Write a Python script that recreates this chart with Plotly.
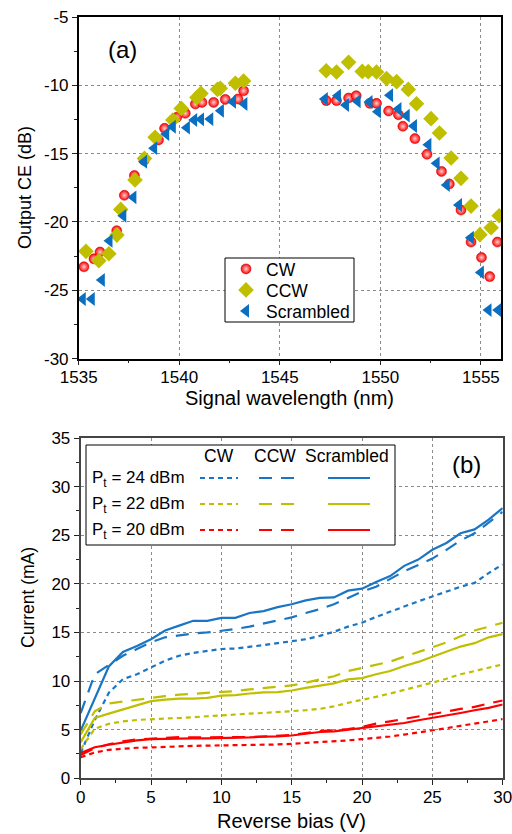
import plotly.graph_objects as go

# ---------------- Panel (a) data ----------------
cw_wl = [1535.26, 1535.76, 1536.06, 1536.89, 1537.27, 1537.77, 1538.25, 1538.97, 1539.27, 1539.88,
         1540.3, 1540.8, 1541.13, 1541.71, 1542.29, 1542.92, 1543.2,
         1547.31, 1547.82, 1548.42, 1548.8, 1549.48, 1549.81, 1550.41, 1550.9, 1551.12, 1551.72,
         1552.32, 1553.04, 1553.43, 1554.01, 1554.51, 1555.03, 1555.44, 1555.82]
cw_ce = [-23.28, -22.7, -22.2, -20.64, -18.05, -16.6, -15.5, -14.0, -13.15, -12.34,
         -12.05, -11.37, -11.25, -11.25, -11.03, -11.0, -10.4,
         -11.12, -11.12, -10.93, -10.76, -11.32, -11.32, -11.88, -12.15, -13.0, -13.9,
         -15.05, -16.3, -17.22, -19.13, -21.47, -22.6, -24.0, -21.47]

ccw_wl = [1535.36, 1536.0, 1536.5, 1536.9, 1537.09, 1537.8, 1538.27, 1538.8, 1539.68, 1540.1,
          1540.88, 1541.08, 1541.9, 1542.04, 1542.79, 1543.2,
          1547.31, 1547.82, 1548.42, 1549.1, 1549.4, 1549.81, 1550.31, 1550.81, 1551.39, 1551.8,
          1552.52, 1552.94, 1553.52, 1554.01, 1554.51, 1554.95, 1555.51, 1555.91]
ccw_ce = [-22.15, -22.84, -22.33, -20.96, -19.08, -16.93, -15.35, -13.8, -12.54, -11.69,
          -10.9, -10.59, -10.3, -10.22, -9.85, -9.68,
          -8.93, -9.03, -8.32, -8.98, -9.0, -9.03, -9.51, -9.73, -10.3, -11.35,
          -12.44, -13.49, -15.32, -16.81, -18.84, -20.93, -20.42, -19.55]

scr_wl = [1535.2, 1535.65, 1536.15, 1536.53, 1537.22, 1537.72, 1538.25, 1538.75, 1539.35, 1539.68,
          1540.38, 1540.74, 1541.08, 1541.54, 1542.07, 1542.67, 1543.24,
          1547.24, 1547.89, 1548.29, 1548.87, 1549.46, 1549.88, 1550.48, 1550.9, 1551.31, 1551.67,
          1552.39, 1552.8, 1553.3, 1553.91, 1554.5, 1555.0, 1555.38, 1555.86]
scr_ce = [-25.64, -25.64, -24.25, -21.38, -19.55, -18.2, -15.59, -14.6, -13.57, -13.03,
          -13.1, -12.54, -12.49, -12.47, -11.86, -11.2, -11.37,
          -11.0, -10.76, -11.44, -11.17, -11.22, -11.93, -10.73, -11.73, -12.22, -12.98,
          -14.35, -15.71, -17.3, -18.76, -21.15, -23.69, -26.45, -26.45]

wl_ticks = [1535, 1540, 1545, 1550, 1555]
ce_ticks = [-30, -25, -20, -15, -10, -5]
ce_ticktext = ["-30", "-25", "-20", "-15", "-10", "-5"]

# ---------------- Panel (b) data ----------------
bias = list(range(0, 31))

cw24 = [2.6, 6.0, 8.8, 10.2, 10.7, 11.4, 12.1, 12.6, 12.9, 13.1, 13.3, 13.35, 13.5, 13.7, 13.9, 14.1,
        14.3, 14.65, 15.07, 15.6, 16.0, 16.6, 17.15, 17.7, 18.2, 18.7, 19.2, 19.7, 20.1, 21.1, 22.0]
ccw24 = [6.7, 10.7, 11.65, 12.6, 13.3, 14.0, 14.5, 14.7, 14.9, 15.0, 15.15, 15.35, 15.6, 15.9, 16.2, 16.55,
         17.0, 17.4, 17.9, 18.55, 19.2, 19.7, 20.5, 21.3, 21.95, 22.6, 23.5, 24.45, 25.2, 26.3, 27.4]
scr24 = [4.9, 8.2, 11.5, 13.0, 13.6, 14.3, 15.2, 15.7, 16.2, 16.2, 16.5, 16.5, 17.0, 17.2, 17.6, 17.9,
         18.3, 18.55, 18.6, 19.3, 19.5, 20.2, 20.8, 21.85, 22.5, 23.5, 24.2, 25.2, 25.6, 26.6, 27.8]

cw22 = [3.0, 5.1, 5.6, 5.85, 6.0, 6.1, 6.15, 6.2, 6.3, 6.38, 6.45, 6.55, 6.65, 6.72, 6.8, 6.9,
        7.0, 7.14, 7.4, 7.76, 8.05, 8.38, 8.72, 9.07, 9.48, 9.83, 10.24, 10.7, 11.03, 11.38, 11.72]
ccw22 = [4.5, 6.9, 7.7, 7.9, 8.1, 8.3, 8.45, 8.6, 8.7, 8.8, 8.86, 8.97, 9.14, 9.3, 9.4, 9.55,
         9.83, 10.17, 10.5, 11.03, 11.35, 11.6, 12.0, 12.5, 13.0, 13.45, 13.97, 14.6, 15.2, 15.6, 16.0]
scr22 = [3.7, 6.2, 6.65, 7.07, 7.5, 7.93, 8.1, 8.2, 8.2, 8.28, 8.5, 8.55, 8.72, 8.83, 8.86, 9.03,
         9.3, 9.55, 9.76, 10.17, 10.3, 10.7, 11.03, 11.55, 11.97, 12.5, 13.0, 13.55, 13.9, 14.5, 14.83]

cw20 = [2.17, 2.65, 2.93, 3.07, 3.14, 3.17, 3.24, 3.28, 3.34, 3.36, 3.38, 3.38, 3.41, 3.45, 3.48, 3.55,
        3.62, 3.69, 3.8, 3.9, 4.03, 4.15, 4.3, 4.5, 4.7, 4.95, 5.15, 5.4, 5.6, 5.85, 6.1]
ccw20 = [2.4, 3.1, 3.5, 3.8, 4.0, 4.1, 4.2, 4.25, 4.2, 4.2, 4.2, 4.2, 4.25, 4.3, 4.35, 4.45,
         4.65, 4.85, 4.93, 5.05, 5.28, 5.62, 5.86, 6.1, 6.38, 6.55, 6.86, 7.14, 7.34, 7.69, 8.0]
scr20 = [2.6, 3.2, 3.45, 3.7, 3.9, 4.03, 4.07, 4.1, 4.1, 4.1, 4.12, 4.14, 4.2, 4.28, 4.3, 4.4,
         4.6, 4.76, 4.83, 5.0, 5.17, 5.41, 5.52, 5.69, 5.97, 6.2, 6.45, 6.72, 7.0, 7.24, 7.59]

power_labels = ["P<sub>t</sub> = 24 dBm", "P<sub>t</sub> = 22 dBm", "P<sub>t</sub> = 20 dBm"]
mode_labels = ["CW", "CCW", "Scrambled"]

# ---------------- Styles ----------------
BLUE = "#1a76c4"
YEL = "#bfbf00"
RED = "#ff0000"
FONT = "Liberation Sans, Arial, sans-serif"
DOT = "5px,4px"
DASH = "13px,9px"

W, H = 512, 834

def px_x(p):
    return p / W

def px_y(p):
    return 1 - p / H

fig = go.Figure()

# Panel (a)
fig.add_trace(go.Scatter(x=cw_wl, y=cw_ce, mode="markers", name="CW", legend="legend",
                         marker=dict(symbol="circle", size=10, color=RED,
                                     gradient=dict(type="radial", color="#ffd0d0"),
                                     line=dict(color="#c00000", width=0.5)),
                         xaxis="x", yaxis="y"))
fig.add_trace(go.Scatter(x=ccw_wl, y=ccw_ce, mode="markers", name="CCW", legend="legend2",
                         marker=dict(symbol="diamond", size=12, color=YEL, line=dict(width=0)),
                         xaxis="x", yaxis="y"))
fig.add_trace(go.Scatter(x=scr_wl, y=scr_ce, mode="markers", name="Scrambled", legend="legend3",
                         marker=dict(symbol="triangle-left", size=12, color="#0a6fc0", line=dict(width=0)),
                         xaxis="x", yaxis="y"))

# Panel (b)
series_b = [
    (cw24, BLUE, DOT), (ccw24, BLUE, DASH), (scr24, BLUE, "solid"),
    (cw22, YEL, DOT), (ccw22, YEL, DASH), (scr22, YEL, "solid"),
    (cw20, RED, DOT), (ccw20, RED, DASH), (scr20, RED, "solid"),
]
for vals, col, dsh in series_b:
    fig.add_trace(go.Scatter(x=bias, y=vals, mode="lines", showlegend=False,
                             line=dict(color=col, width=2.2, dash=dsh),
                             xaxis="x2", yaxis="y2"))

axis_common = dict(showline=True, mirror=True, ticks="outside", ticklen=5, tickwidth=1,
                   tickcolor="#222", tickfont=dict(size=17, color="black", family=FONT),
                   showgrid=True, gridcolor="#8a8a8a", gridwidth=1, zeroline=False,
                   automargin=False)

def leg(ycen):
    return dict(x=px_x(226), y=px_y(ycen), xanchor="left", yanchor="middle",
                borderwidth=0, bgcolor="rgba(0,0,0,0)",
                font=dict(size=17.5, family=FONT, color="black"), itemwidth=30)

fig.update_layout(
    width=W, height=H,
    margin=dict(l=0, r=0, t=0, b=0, autoexpand=False),
    paper_bgcolor="white", plot_bgcolor="white",
    font=dict(family=FONT, size=16, color="black"),
    xaxis=dict(domain=[78.7 / W, 501 / W], range=[1535, 1556], tickvals=wl_ticks,
               linecolor="black", linewidth=1.5, griddash="3px,3px", anchor="y",
               ticklabelstandoff=-3, ticklabeloverflow="allow",
               minor=dict(dtick=2.5, tick0=1535, ticks="outside", ticklen=3, tickcolor="#222", showgrid=False),
               **axis_common),
    yaxis=dict(domain=[1 - 358.6 / H, 1 - 17 / H], range=[-30, -5], tickvals=ce_ticks, ticktext=ce_ticktext,
               linecolor="black", linewidth=1.5, griddash="3px,3px", anchor="x",
               ticklabeloverflow="allow",
               minor=dict(dtick=2.5, tick0=-30, ticks="outside", ticklen=3, tickcolor="#222", showgrid=False),
               **axis_common),
    xaxis2=dict(domain=[80.7 / W, 502.7 / W], range=[0, 30], dtick=5, tick0=0,
                linecolor="#444", linewidth=2, griddash="dot", anchor="y2",
                ticklabelstandoff=-3, ticklabeloverflow="allow",
                minor=dict(dtick=2.5, tick0=0, ticks="outside", ticklen=3, tickcolor="#222", showgrid=False),
                **axis_common),
    yaxis2=dict(domain=[1 - 778.3 / H, 1 - 438 / H], range=[0, 35], dtick=5, tick0=0,
                linecolor="#444", linewidth=2, griddash="dot", anchor="x2",
                ticklabeloverflow="allow",
                minor=dict(dtick=2.5, tick0=0, ticks="outside", ticklen=3, tickcolor="#222", showgrid=False),
                **axis_common),
    legend=leg(269), legend2=leg(290), legend3=leg(311),
)

annotations = [
    dict(text="Output CE (dB)", x=px_x(25), y=px_y(188), textangle=-90, font=dict(size=18, family=FONT)),
    dict(text="Signal wavelength (nm)", x=px_x(289), y=px_y(398), font=dict(size=20, family=FONT)),
    dict(text="Current (mA)", x=px_x(28), y=px_y(598), textangle=-90, font=dict(size=17.5, family=FONT)),
    dict(text="Reverse bias (V)", x=px_x(291), y=px_y(821), font=dict(size=20, family=FONT)),
    dict(text="(a)", x=px_x(122), y=px_y(50), font=dict(size=24, family=FONT)),
    dict(text="(b)", x=px_x(466), y=px_y(464), font=dict(size=24, family=FONT)),
]
for a in annotations:
    a["font"]["color"] = "black"
    a.update(xref="paper", yref="paper", showarrow=False, xanchor="center", yanchor="middle")

# Box around the panel (a) legend
shapes = [dict(type="rect", xref="paper", yref="paper", x0=px_x(225), x1=px_x(354),
               y0=px_y(322), y1=px_y(258), line=dict(color="black", width=1), fillcolor="white",
               layer="above")]

# Custom legend for panel (b)
shapes.append(dict(type="rect", xref="paper", yref="paper", x0=px_x(86), x1=px_x(395),
                   y0=px_y(545), y1=px_y(445), line=dict(color="black", width=1), fillcolor="white",
                   layer="above"))
head_x = [219, 275, 347]
for lbl, hx in zip(mode_labels, head_x):
    annotations.append(dict(text=lbl, x=px_x(hx), y=px_y(456), xref="paper", yref="paper",
                            showarrow=False, xanchor="center", yanchor="middle",
                            font=dict(size=17.5, family=FONT, color="black")))
row_y = [478, 504, 530]
row_cols = [BLUE, YEL, RED]
seg = [(200, 238, DOT), (259, 295, DASH), (328, 370, "solid")]
for lbl, ry, col in zip(power_labels, row_y, row_cols):
    annotations.append(dict(text=lbl, x=px_x(90), y=px_y(ry + 1), xref="paper", yref="paper",
                            showarrow=False, xanchor="left", yanchor="middle",
                            font=dict(size=17, family=FONT, color="black")))
    for x0, x1, dsh in seg:
        shapes.append(dict(type="line", xref="paper", yref="paper", x0=px_x(x0), x1=px_x(x1),
                           y0=px_y(ry), y1=px_y(ry), line=dict(color=col, width=2.2, dash=dsh),
                           layer="above"))

fig.update_layout(annotations=annotations, shapes=shapes)

fig.write_html("out.html", config={"displayModeBar": False},
               post_script="document.body.style.margin='0';document.body.style.overflow='hidden';")
